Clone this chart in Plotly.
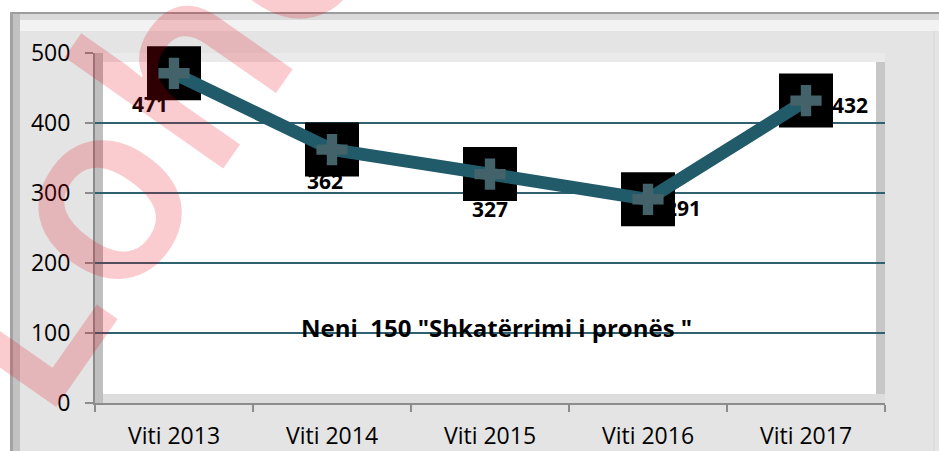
import plotly.graph_objects as go

# ---- data ----
categories = ["Viti 2013", "Viti 2014", "Viti 2015", "Viti 2016", "Viti 2017"]
values = [471, 362, 327, 291, 432]
value_labels = ["471", "362", "327", "291", "432"]
y_tick_values = [0, 100, 200, 300, 400, 500]
y_tick_labels = ["0", "100", "200", "300", "400", "500"]
title_text = 'Neni\u00a0 150 "Shkatërrimi i pronës "'
watermark_text = "Loho"

# ---- styling ----
W, H = 939, 451
ML, MR, MT, MB = 95, 54, 53, 48
PW, PH = W - ML - MR, H - MT - MB
label_shifts = [(-24, -31), (-7, -31), (0, -35), (35, -9), (44, -4)]
FONT = "Open Sans"


def pxx(x):
    return (x - ML) / PW


def pxy(y):
    return (H - MB - y) / PH


def rect(x0, y0, x1, y1, color):
    return dict(type="rect", xref="paper", yref="paper", layer="below",
                x0=pxx(x0), x1=pxx(x1), y0=pxy(y1), y1=pxy(y0),
                fillcolor=color, line=dict(width=0))


shapes = [
    rect(10, 12, 980, 480, "#e4e4e4"),
    rect(10, 12, 980, 14, "#9c9c9c"),
    rect(13, 14, 980, 20, "#dadada"),
    rect(20, 20, 980, 31, "#f2f2f2"),
    rect(10, 12, 13, 480, "#a3a3a3"),
    rect(13, 14, 20, 480, "#c2c2c2"),
    rect(933, 31, 935, 480, "#dcdcdc"),
    rect(95, 53, 885, 403, "#ffffff"),
    rect(95, 53, 885, 62, "#eaeaea"),
    rect(95, 53, 103, 403, "#bfbfbf"),
    rect(876, 62, 885, 403, "#c7c7c7"),
    rect(103, 394, 885, 403, "#dddddd"),
]

fig = go.Figure()
fig.add_trace(go.Scatter(
    x=categories, y=values, mode="markers", cliponaxis=False, hoverinfo="skip",
    marker=dict(symbol="square", size=54, color="#000000", line=dict(width=0))))
fig.add_trace(go.Scatter(
    x=categories, y=values, mode="lines", cliponaxis=False, hoverinfo="skip",
    line=dict(color="#215a69", width=13)))
fig.add_trace(go.Scatter(
    x=categories, y=values, mode="markers", cliponaxis=False, hoverinfo="skip",
    marker=dict(symbol="cross", size=26, color="#43626a", line=dict(width=0))))

annotations = []
for cat, val, lab, (dx, dy) in zip(categories, values, value_labels, label_shifts):
    annotations.append(dict(
        x=cat, y=val, xref="x", yref="y", text=lab, showarrow=False,
        xshift=dx, yshift=dy, xanchor="center", yanchor="middle",
        font=dict(family=FONT, size=21, color="#000000", weight="bold")))

annotations.append(dict(
    x=pxx(496), y=pxy(327), xref="paper", yref="paper", text=title_text,
    showarrow=False, xanchor="center", yanchor="middle",
    font=dict(family=FONT, size=24, color="#000000", weight="bold")))

annotations.append(dict(
    x=pxx(137), y=pxy(119), xref="paper", yref="paper", text=watermark_text,
    showarrow=False, xanchor="center", yanchor="middle", textangle=-55,
    font=dict(family=FONT, size=255, color="rgba(230,0,20,0.2)", weight=600)))

fig.update_layout(
    width=W, height=H,
    margin=dict(l=ML, r=MR, t=MT, b=MB, pad=0, autoexpand=False),
    paper_bgcolor="#ffffff", plot_bgcolor="#ffffff",
    showlegend=False,
    font=dict(family=FONT, color="#000000"),
    shapes=shapes,
    annotations=annotations,
    xaxis=dict(type="category", range=[-0.5, 4.5], showgrid=False, zeroline=False,
               automargin=False,
               showline=True, linecolor="#8c8c8c", linewidth=2,
               ticks="outside", tickson="boundaries", ticklen=7, tickwidth=2,
               tickcolor="#8c8c8c", tickfont=dict(size=23, color="#000000"),
               ticklabelstandoff=11),
    yaxis=dict(range=[0, 500], tickvals=y_tick_values, ticktext=y_tick_labels,
               automargin=False,
               showgrid=True, gridcolor="#2f6170", gridwidth=2, zeroline=False,
               showline=True, linecolor="#8c8c8c", linewidth=2,
               ticks="outside", ticklen=8, tickwidth=2, tickcolor="#8c8c8c",
               tickfont=dict(size=23, color="#000000"), ticklabelstandoff=10),
)

fig.write_html(
    "out.html",
    config={"responsive": False, "displayModeBar": False},
    post_script="document.body.style.margin='0';document.body.style.overflow='hidden';",
)
